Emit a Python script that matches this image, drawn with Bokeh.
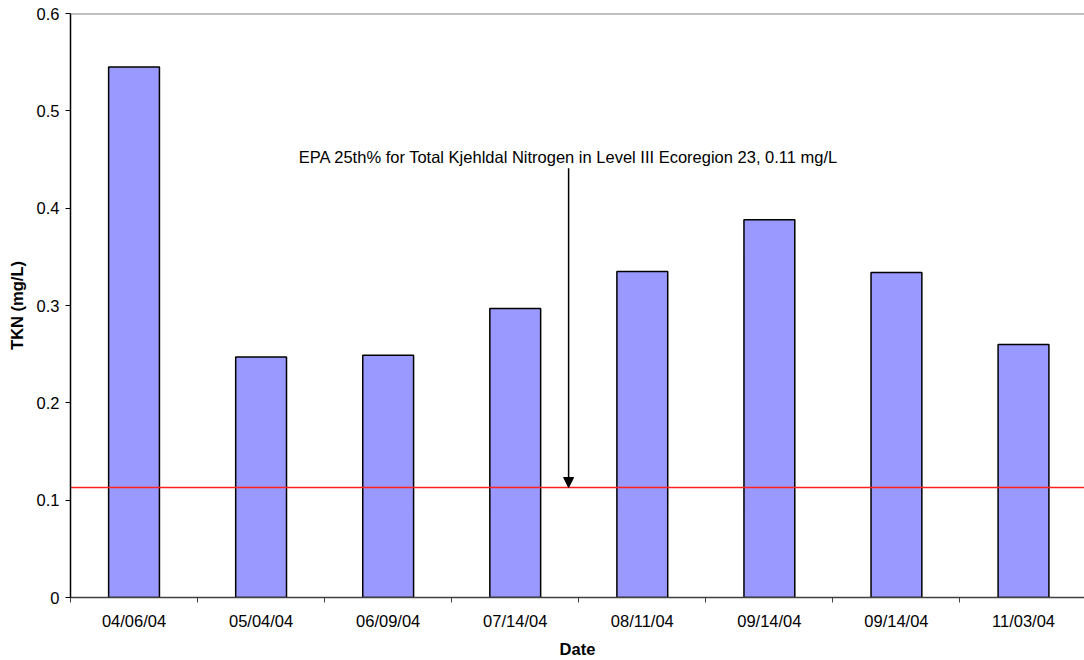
from bokeh.plotting import figure
from bokeh.models import Range1d, FixedTicker, Span, Arrow, NormalHead, Label, ColumnDataSource
from bokeh.embed import file_html
from bokeh.resources import INLINE

# ---- data ----
dates = ["04/06/04", "05/04/04", "06/09/04", "07/14/04", "08/11/04", "09/14/04", "09/14/04", "11/03/04"]
tkn = [0.545, 0.247, 0.249, 0.297, 0.335, 0.388, 0.334, 0.260]
epa_threshold = 0.113
y_ticks = [0, 0.1, 0.2, 0.3, 0.4, 0.5, 0.6]
annotation_text = "EPA 25th% for Total Kjehldal Nitrogen in Level III Ecoregion 23, 0.11 mg/L"

FONT = "Liberation Sans"
FS = "16.5px"
centers = [i + 0.5 for i in range(len(dates))]
src = ColumnDataSource(dict(x=centers, top=tkn))

p = figure(width=1084, height=660, output_backend="svg", toolbar_location=None,
           x_range=Range1d(0, 7.98), y_range=Range1d(0, 0.6),
           min_border_left=70, min_border_right=0, min_border_top=13, min_border_bottom=63)
p.outline_line_color = None
p.xgrid.grid_line_color = None
p.ygrid.grid_line_color = None
p.background_fill_color = "white"
p.border_fill_color = "white"

p.vbar(x="x", top="top", bottom=0, width=0.4, source=src,
       fill_color="#9999FF", line_color="black", line_width=1.5)

# top border
p.add_layout(Span(location=0.6, dimension="width", line_color="#808080", line_width=2))
# threshold line
p.hspan(y=[epa_threshold], line_color="#FF2020", line_width=1.5)

# arrow + annotation
ax = 3.92
p.add_layout(Arrow(end=NormalHead(size=10, fill_color="black", line_color="black"),
                   x_start=ax, y_start=0.441, x_end=ax, y_end=epa_threshold,
                   line_color="black", line_width=1.5))
p.add_layout(Label(x=ax, y=0.453, text=annotation_text, text_align="center",
                   text_baseline="alphabetic", text_font=FONT, text_font_size=FS,
                   text_color="black"))

# x axis
xa = p.xaxis[0]
xa.ticker = FixedTicker(ticks=centers, minor_ticks=list(range(len(dates) + 1)))
xa.major_label_overrides = {c: d for c, d in zip(centers, dates)}
xa.major_tick_line_color = None
xa.minor_tick_out = 5
xa.minor_tick_in = 0
xa.minor_tick_line_color = "#404040"
xa.axis_line_color = "#404040"
xa.axis_line_width = 1.5
xa.major_label_text_font = FONT
xa.major_label_text_font_size = FS
xa.major_label_text_color = "black"
xa.major_label_standoff = 8
xa.axis_label = "Date"
xa.axis_label_text_font = FONT
xa.axis_label_text_font_size = FS
xa.axis_label_text_font_style = "bold"
xa.axis_label_text_color = "black"
xa.axis_label_standoff = 7

# y axis
ya = p.yaxis[0]
ya.ticker = FixedTicker(ticks=y_ticks, minor_ticks=[])
ya.major_label_overrides = {0: "0"}
ya.major_tick_out = 5
ya.major_tick_in = 0
ya.major_tick_line_color = "black"
ya.axis_line_color = "black"
ya.axis_line_width = 1.5
ya.major_label_text_font = FONT
ya.major_label_text_font_size = FS
ya.major_label_text_color = "black"
ya.major_label_standoff = 6
ya.axis_label = "TKN (mg/L)"
ya.axis_label_text_font = FONT
ya.axis_label_text_font_size = FS
ya.axis_label_text_font_style = "bold"
ya.axis_label_text_color = "black"
ya.axis_label_standoff = 8

open("out.html", "w").write(file_html(p, INLINE))
